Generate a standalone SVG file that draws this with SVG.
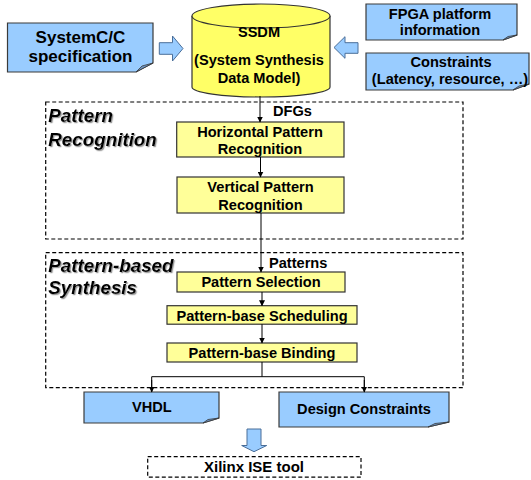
<svg xmlns="http://www.w3.org/2000/svg" width="531" height="480" viewBox="0 0 531 480">
  <defs>
    <marker id="arr" markerWidth="6" markerHeight="6" refX="5.5" refY="3" orient="auto" markerUnits="userSpaceOnUse">
      <path d="M0,0 L6,3 L0,6 Z" fill="#000"/>
    </marker>
    <filter id="shadow" x="-5%" y="-10%" width="115%" height="130%">
      <feDropShadow dx="1.2" dy="1.2" stdDeviation="0.4" flood-color="#808080" flood-opacity="0.8"/>
    </filter>
    <style>
      text { font-family: "Liberation Sans", Arial, sans-serif; font-weight: bold; fill: #000; }
      .c { text-anchor: middle; }
      .t145 { font-size: 14.6px; }
      .t17 { font-size: 17px; }
      .stage { font-size: 18.8px; font-style: italic; }
      .doc { fill: #99CCFF; stroke: #3a3a3a; stroke-width: 1.2; }
      .fold { fill: #6E95C4; stroke: #3a3a3a; stroke-width: 0.8; }
      .step { fill: #FFFF99; stroke: #333; stroke-width: 1.2; }
      .bigarrow { fill: #99CCFF; stroke: #4A6E99; stroke-width: 1; }
      .region { fill: none; stroke: #000; stroke-width: 1.2; stroke-dasharray: 4 2.5; }
      .wire { fill: none; stroke: #000; stroke-width: 1; }
    </style>
  </defs>

  <!-- dashed stage regions -->
  <rect class="region" x="45.7" y="102" width="417.3" height="137"/>
  <rect class="region" x="45.7" y="252.7" width="417.3" height="135"/>
  <text class="stage" x="48.3" y="122.3" filter="url(#shadow)">Pattern</text>
  <text class="stage" x="48.3" y="145.7" filter="url(#shadow)">Recognition</text>
  <text class="stage" x="48.3" y="271.7" filter="url(#shadow)">Pattern-based</text>
  <text class="stage" x="48.3" y="294.3" filter="url(#shadow)">Synthesis</text>

  <!-- input specification -->
  <g id="spec">
    <path class="doc" d="M7.5,23 H153 V63 L136,72 H7.5 Z"/>
    <path class="fold" d="M136,72 L142,66 L153,63 Z"/>
    <text class="c t17" x="80.5" y="42.8">SystemC/C</text>
    <text class="c t17" x="80.5" y="62">specification</text>
  </g>

  <!-- system synthesis data model -->
  <g id="ssdm">
    <path d="M192,16 V87 A69,10 0 0 0 330,87 V16" fill="#FFFF66" stroke="#333" stroke-width="1.2"/>
    <ellipse cx="261" cy="16" rx="69" ry="12" fill="#FFFF66" stroke="#333" stroke-width="1.2"/>
    <text class="c t145" x="259" y="37">SSDM</text>
    <text class="c t145" x="259" y="65">(System Synthesis</text>
    <text class="c t145" x="259" y="83">Data Model)</text>
  </g>

  <g id="fpga">
    <path class="doc" d="M366,4 H517 V35 L503,40 H366 Z"/>
    <path class="fold" d="M503,40 L508,36.5 L517,35 Z"/>
    <text class="c t145" x="440" y="18.8">FPGA platform</text>
    <text class="c t145" x="440" y="35">information</text>
  </g>

  <g id="constraints">
    <path class="doc" d="M366,53 H529 V84 L513,90 H366 Z"/>
    <path class="fold" d="M513,90 L519,86 L529,84 Z"/>
    <text class="c t145" x="451" y="67">Constraints</text>
    <text class="c t145" x="450" y="84">(Latency, resource, …)</text>
  </g>

  <!-- block arrows into SSDM -->
  <g id="arrow-in-left">
    <path class="bigarrow" d="M159.3,42.7 H172.5 V36 L183,48.5 L172.5,61 V54.3 H159.3 Z"/>
  </g>
  <g id="arrow-in-right">
    <path class="bigarrow" d="M358,42.7 H345 V36.7 L334,47.5 L345,58.3 V53.3 H358 Z"/>
  </g>

  <!-- flow steps -->
  <g id="hpr">
    <rect class="step" x="176.7" y="122" width="167.3" height="35"/>
    <text class="c t145" x="260" y="136.7">Horizontal Pattern</text>
    <text class="c t145" x="260" y="154.3">Recognition</text>
  </g>
  <g id="vpr">
    <rect class="step" x="177" y="177" width="167" height="36"/>
    <text class="c t145" x="260.5" y="191.7">Vertical Pattern</text>
    <text class="c t145" x="260.5" y="210">Recognition</text>
  </g>
  <g id="selection">
    <rect class="step" x="177" y="272" width="168" height="20"/>
    <text class="c t145" x="261" y="286.7">Pattern Selection</text>
  </g>
  <g id="scheduling">
    <rect class="step" x="167" y="305.7" width="190" height="18.5"/>
    <text class="c t145" x="262" y="321">Pattern-base Scheduling</text>
  </g>
  <g id="binding">
    <rect class="step" x="167" y="343" width="190" height="19"/>
    <text class="c t145" x="262" y="358.3">Pattern-base Binding</text>
  </g>

  <!-- outputs -->
  <g id="vhdl">
    <path class="doc" d="M84,392 H219 V418 L203,423 H84 Z"/>
    <path class="fold" d="M203,423 L208,419.5 L219,418 Z"/>
    <text class="c t145" x="151.8" y="411.7">VHDL</text>
  </g>
  <g id="design-constraints">
    <path class="doc" d="M279,392 H449 V422 L428,427 H279 Z"/>
    <path class="fold" d="M428,427 L435,423.5 L449,422 Z"/>
    <text class="c t145" x="364" y="414">Design Constraints</text>
  </g>

  <g id="arrow-down">
    <path class="bigarrow" d="M247,429 H261 V445.5 H266.7 L254,451.7 L241.7,445.5 H247 Z"/>
  </g>

  <g id="xilinx">
    <rect class="region" x="147.7" y="456.7" width="213.3" height="20.5"/>
    <text class="c" x="254" y="471.7" font-size="15px">Xilinx ISE tool</text>
  </g>

  <!-- connectors -->
  <g id="connectors">
    <line class="wire" x1="260" y1="96" x2="260" y2="122" marker-end="url(#arr)"/>
    <line class="wire" x1="260.5" y1="157" x2="260.5" y2="177" marker-end="url(#arr)"/>
    <line class="wire" x1="261" y1="213" x2="261" y2="272" marker-end="url(#arr)"/>
    <line class="wire" x1="262" y1="292" x2="262" y2="305.7" marker-end="url(#arr)"/>
    <line class="wire" x1="262" y1="324.2" x2="262" y2="343" marker-end="url(#arr)"/>
    <polyline class="wire" points="262,362 262,376.7"/>
    <polyline class="wire" points="151.7,391.5 151.7,376.7 364.3,376.7 364.3,391.5"/>
    <line class="wire" x1="151.7" y1="380" x2="151.7" y2="392" marker-end="url(#arr)"/>
    <line class="wire" x1="364.3" y1="380" x2="364.3" y2="392" marker-end="url(#arr)"/>
  </g>

  <!-- edge labels -->
  <text class="t145" x="273" y="115.7">DFGs</text>
  <text class="t145" x="269" y="268.3">Patterns</text>
</svg>
